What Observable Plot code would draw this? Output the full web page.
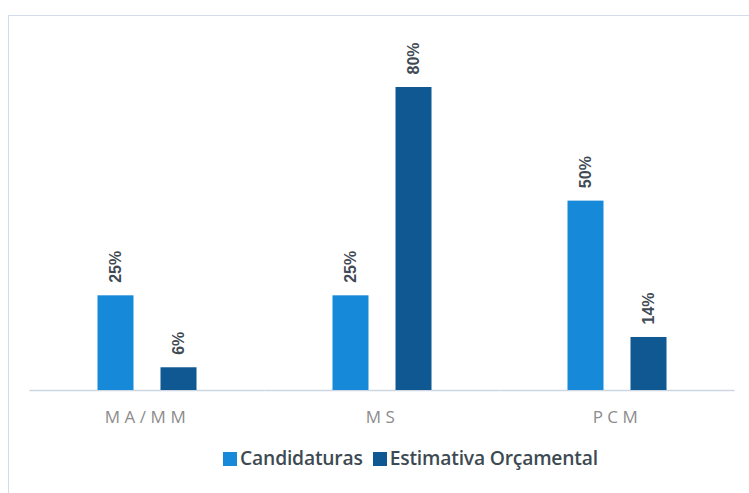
<!DOCTYPE html>
<html><head><meta charset="utf-8">
<script src="https://cdn.jsdelivr.net/npm/d3@7"></script>
<script src="https://cdn.jsdelivr.net/npm/@observablehq/plot@0.6"></script>
<style>
html,body{margin:0;padding:0;background:#fff;}
#wrap{position:relative;width:749px;height:493px;overflow:hidden;background:#fff;}
#frame{position:absolute;left:8px;top:15px;width:760px;height:500px;border:1.5px solid #d3dde9;box-sizing:border-box;}
#chart{position:absolute;left:0;top:0;}
#legend{position:absolute;left:36px;width:749px;top:444px;text-align:center;font-family:"Open Sans",sans-serif;font-size:19.3px;font-weight:600;color:#3d4a52;letter-spacing:-0.2px;white-space:nowrap;}
#legend span.sw{display:inline-block;width:14px;height:14px;margin-right:3px;vertical-align:-1px;}
#legend span.item{margin:0 5px;}
[aria-label="fx-axis"] text,[aria-label="fx-axis tick label"] text{letter-spacing:4.5px;}
</style></head>
<body><div id="wrap"><div id="frame"></div><div id="chart"></div><div id="legend"></div></div>
<script>
const categories = ["MA/MM", "MS", "PCM"];
const series = ["Candidaturas", "Estimativa Orçamental"];
const candidaturas = [25, 25, 50];
const estimativa = [6, 80, 14];
const colors = ["#1689d8", "#0f5892"];

const data = [];
categories.forEach((c, i) => {
  data.push({cat: c, series: series[0], value: candidaturas[i]});
  data.push({cat: c, series: series[1], value: estimativa[i]});
});

const chart = Plot.plot({
  width: 749, height: 440,
  marginLeft: 29.5, marginRight: 14.5, marginTop: 87, marginBottom: 50,
  facet: {data, x: "cat"},
  fx: {domain: categories, padding: 0, label: null, tickSize: 0, tickPadding: 20, round: false},
  x: {domain: series, paddingInner: 0.4286, paddingOuter: 1.079, axis: null, round: false},
  y: {domain: [0, 80], axis: null},
  color: {domain: series, range: colors},
  style: {fontFamily: "'Open Sans', sans-serif", fontSize: "17px", color: "#8c8c8c", background: "transparent"},
  marks: [
    Plot.ruleY([0], {stroke: "#cdd7e2", strokeWidth: 1.5}),
    Plot.barY(data, {x: "series", y: "value", fill: "series"}),
    Plot.text(data, {x: "series", y: "value", text: d => d.value + "%", rotate: -90, textAnchor: "start", dy: -13,
      fill: "#3f4a55", fontSize: 16, fontWeight: "bold", fontFamily: "'Liberation Sans Narrow', 'Liberation Sans', sans-serif"})
  ]
});
document.getElementById("chart").appendChild(chart);

const legend = document.getElementById("legend");
series.forEach((s, i) => {
  const item = document.createElement("span");
  item.className = "item";
  const sw = document.createElement("span");
  sw.className = "sw";
  sw.style.background = colors[i];
  item.appendChild(sw);
  item.appendChild(document.createTextNode(s));
  legend.appendChild(item);
});
</script></body></html>
